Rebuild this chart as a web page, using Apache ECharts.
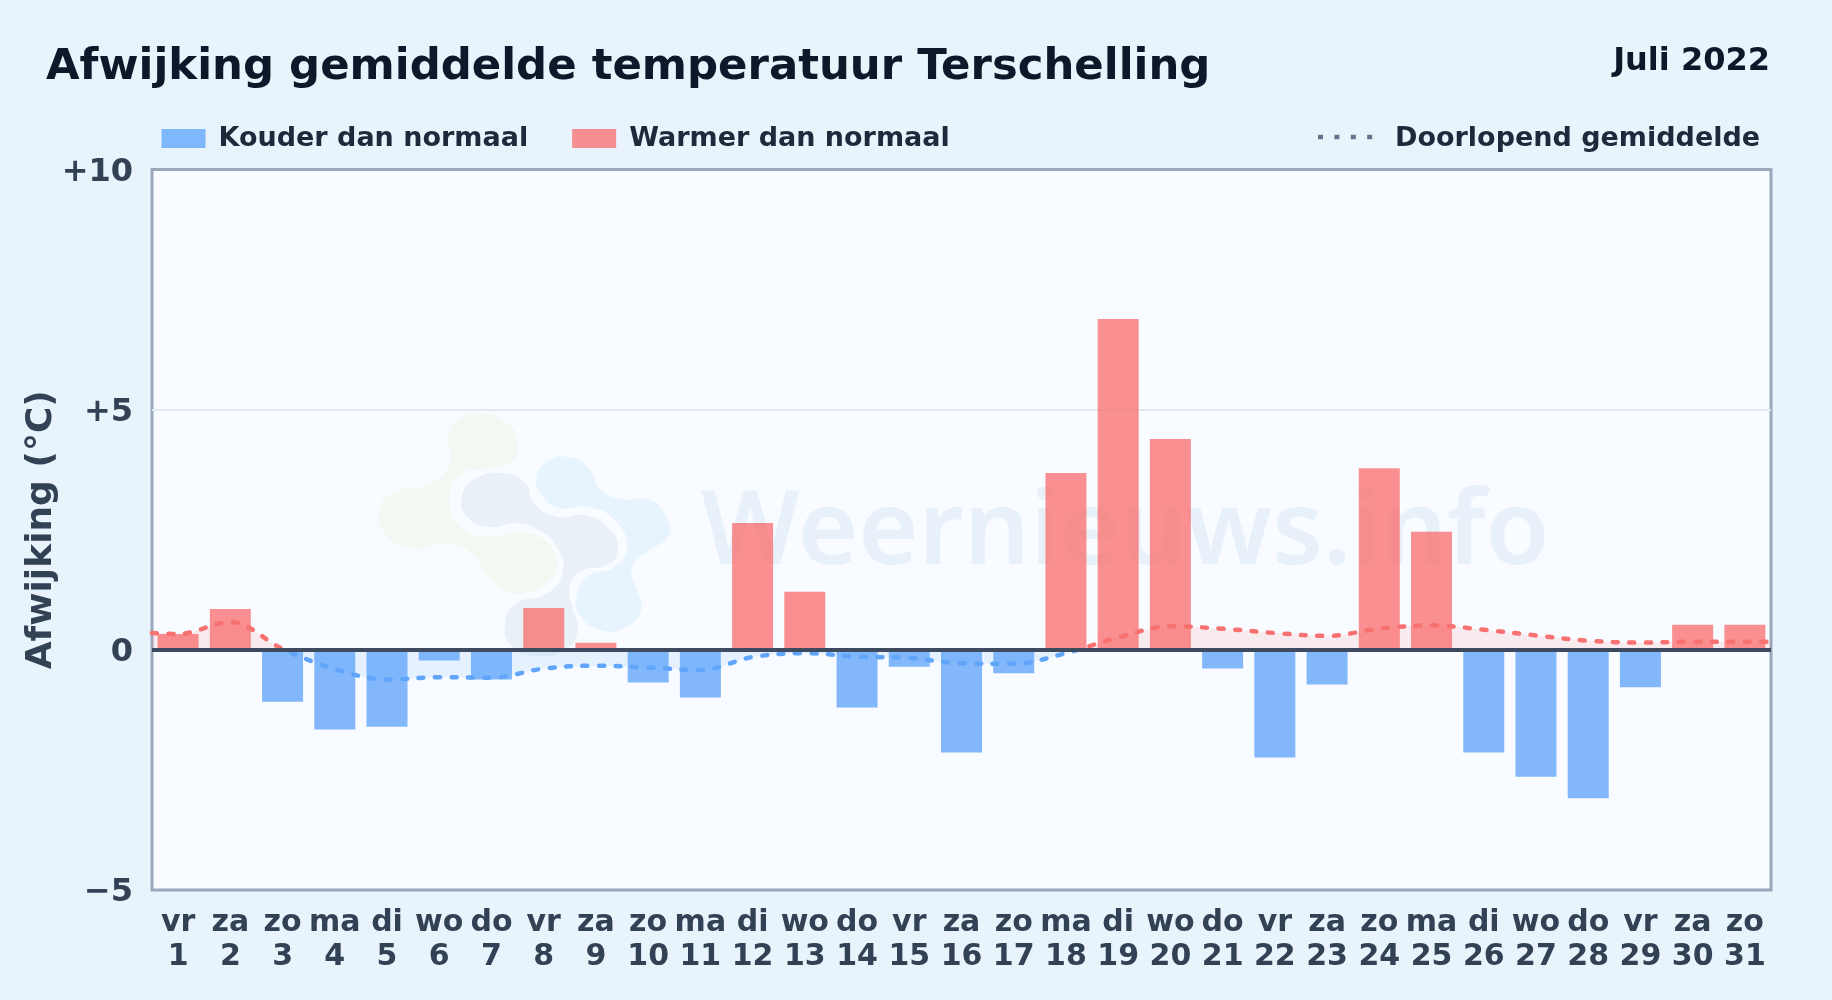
<!DOCTYPE html>
<html><head><meta charset="utf-8">
<style>html,body{margin:0;padding:0;width:1832px;height:1000px;overflow:hidden;background:#e8f3fc}#c{width:1832px;height:1000px}</style>
<script src="https://cdn.jsdelivr.net/npm/echarts@6/dist/echarts.min.js"></script>
</head><body><div id="c"></div>
<script>
const weekdays = ['vr','za','zo','ma','di','wo','do','vr','za','zo','ma','di','wo','do','vr','za','zo','ma','di','wo','do','vr','za','zo','ma','di','wo','do','vr','za','zo'];
const days = ['1','2','3','4','5','6','7','8','9','10','11','12','13','14','15','16','17','18','19','20','21','22','23','24','25','26','27','28','29','30','31'];
const deviations = [0.33,0.85,-1.08,-1.66,-1.60,-0.22,-0.62,0.87,0.15,-0.68,-0.99,2.64,1.21,-1.20,-0.35,-2.14,-0.49,3.68,6.89,4.39,-0.39,-2.24,-0.72,3.78,2.46,-2.14,-2.64,-3.09,-0.78,0.52,0.52];
const runningMean = [0.33,0.58,0.02,-0.40,-0.62,-0.57,-0.58,-0.39,-0.33,-0.37,-0.42,-0.15,-0.07,-0.14,-0.17,-0.28,-0.29,-0.07,0.26,0.49,0.44,0.35,0.29,0.44,0.51,0.42,0.30,0.19,0.15,0.17,0.17];
const runningMeanLeftEdge = 0.35, runningMeanRightEdge = 0.17;
const yTicks = {'10':'+10','5':'+5','0':'0','-5':'\u22125'};
const seriesNames = ['Kouder dan normaal','Warmer dan normaal','Doorlopend gemiddelde'];
const titleText = 'Afwijking gemiddelde temperatuur Terschelling', periodText = 'Juli 2022', yName = 'Afwijking (\u00b0C)', watermark = 'Weernieuws.info';

const FONT = '"DejaVu Sans"';
const labels = weekdays.map((w,i)=>w+'\n'+days[i]);
const cold = deviations.map(v=>v<0?v:null), warm = deviations.map(v=>v>=0?v:null);
const meanPts = [[0.5,runningMeanLeftEdge]].concat(runningMean.map((v,i)=>[i+1,v]),[[31.5,runningMeanRightEdge]]);

const toPage=a=>a.map(([x,y])=>[360+x/2.24,390+y/3]);
const logoGreen=[[275,70],[335,105],[352,160],[340,215],[285,235],[230,250],[200,320],[225,410],[290,440],[380,430],[440,500],[425,570],[350,610],[295,570],[250,490],[190,462],[115,475],[50,420],[45,350],[80,305],[160,280],[200,220],[200,130],[225,85]];
const logoMid=[[228,320],[260,265],[320,250],[370,280],[390,340],[440,380],[510,378],[560,420],[578,470],[560,520],[495,545],[470,590],[475,650],[488,720],[460,780],[400,798],[340,770],[325,700],[350,640],[420,610],[455,540],[440,470],[400,420],[350,400],[290,410],[240,380]];
const logoBlue=[[460,200],[510,230],[540,300],[590,328],[650,330],[690,390],[690,440],[650,480],[610,530],[620,600],[630,660],[590,715],[540,720],[495,680],[485,620],[510,560],[570,530],[598,470],[570,390],[510,350],[450,355],[410,320],[395,260],[420,215]];

// red above the zero line, blue below it: hard stop at the zero position of the value axis
const gridTop = 169.5, gridBottomPx = 890, yMin = -5, yMax = 10, zeroFrac = yMax/(yMax-yMin);
const signGradient = (up,down)=>new echarts.graphic.LinearGradient(0,gridTop,0,gridBottomPx,[
  {offset:0,color:up},{offset:zeroFrac,color:up},{offset:zeroFrac,color:down},{offset:1,color:down}],true);

const chart = echarts.init(document.getElementById('c'),null,{renderer:'canvas'});
chart.setOption({
  animation:false,
  backgroundColor:'#e8f3fc',
  textStyle:{fontFamily:FONT},
  title:[
    {text:titleText,left:41,top:41,textStyle:{fontFamily:FONT,fontWeight:'bold',fontSize:43.4,color:'#0f172a'}},
    {text:periodText,right:57,top:41,textStyle:{fontFamily:FONT,fontWeight:'bold',fontSize:32,color:'#0f172a'}}
  ],
  legend:{left:156.5,top:120,itemWidth:44,itemHeight:19,itemGap:44,selectedMode:false,icon:'rect',
    data:seriesNames.slice(0,2),
    textStyle:{fontFamily:FONT,fontWeight:'bold',fontSize:27,color:'#1e293b',padding:[0,0,0,8]}},
  grid:{left:152,right:61,top:gridTop,bottom:110,show:true,backgroundColor:'#f8fbff',borderColor:'#9aa8bc',borderWidth:3},
  xAxis:[
    {type:'category',data:labels,position:'bottom',axisLine:{show:false,onZero:false},axisTick:{show:false},
      axisLabel:{interval:0,margin:16,fontFamily:FONT,fontWeight:'bold',fontSize:30,lineHeight:34,color:'#334155',hideOverlap:false},splitLine:{show:false}},
    {type:'value',min:0.5,max:31.5,show:false}
  ],
  yAxis:{type:'value',min:yMin,max:yMax,interval:5,
    name:yName,nameLocation:'middle',nameGap:92.5,nameRotate:90,nameMoveOverlap:false,
    nameTextStyle:{fontFamily:FONT,fontWeight:'bold',fontSize:36,color:'#334155'},
    axisLine:{show:false},axisTick:{show:false},
    axisLabel:{margin:19,fontFamily:FONT,fontWeight:'bold',fontSize:32,color:'#334155',verticalAlign:'top',lineHeight:6,formatter:v=>yTicks[String(v)]},
    splitLine:{show:true,showMinLine:false,showMaxLine:false,lineStyle:{color:'#e2e8f0',width:2}}},
  series:[
    {name:seriesNames[0],type:'bar',data:cold,barWidth:41,barGap:'-100%',itemStyle:{color:'rgba(96,165,250,0.78)'}},
    {name:seriesNames[1],type:'bar',data:warm,barWidth:41,barGap:'-100%',itemStyle:{color:'rgba(248,113,113,0.78)'}},
    {name:seriesNames[2],type:'line',xAxisIndex:1,data:meanPts,smooth:0.35,symbol:'none',z:4,
      lineStyle:{width:4.5,type:[5,11.5],cap:'round',color:signGradient('#f87171','#60a5fa')},
      areaStyle:{origin:0,color:signGradient('rgba(248,113,113,0.17)','rgba(96,165,250,0.17)')},
      markLine:{silent:true,symbol:'none',label:{show:false},animation:false,z:5,
        data:[{yAxis:0}],lineStyle:{color:'#3d4a5f',width:4,type:'solid'}}}
  ],
  graphic:[
    {type:'polygon',z:1,silent:true,shape:{points:toPage(logoGreen),smooth:0.5},style:{fill:'#f3f8f2'}},
    {type:'polygon',z:1,silent:true,shape:{points:toPage(logoMid),smooth:0.5},style:{fill:'#e9f0f8'}},
    {type:'polygon',z:1,silent:true,shape:{points:toPage(logoBlue),smooth:0.5},style:{fill:'#e8f4fd'}},
    {type:'text',z:1,silent:true,left:701,top:482,style:{text:watermark,font:'600 103.6px "Noto Sans"',fill:'#e8f1f9'}},
    {type:'line',z:5,silent:true,shape:{x1:1318,y1:137,x2:1376,y2:137},style:{stroke:'#64748b',lineWidth:4.5,lineDash:[5,11.4]}},
    {type:'text',z:5,left:1395,top:125,style:{text:seriesNames[2],font:'bold 27px "DejaVu Sans"',fill:'#1e293b'}}
  ]
});
</script></body></html>
